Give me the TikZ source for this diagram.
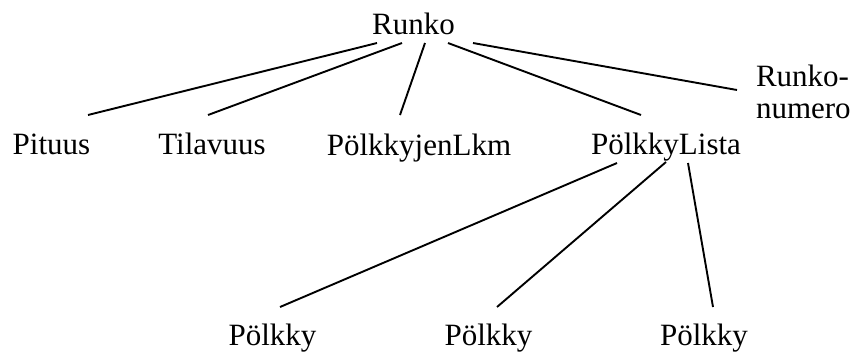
\documentclass[tikz,border=0pt]{standalone}
\usepackage{fontspec}
\setmainfont{Liberation Serif}
\usetikzlibrary{calc}
\tikzset{
  label/.style={inner sep=0pt, outer sep=0pt, anchor=base,
                font=\fontsize{31}{32}\selectfont},
  edge/.style={line width=1.9pt, line cap=butt}
}
\begin{document}
\begin{tikzpicture}[x=1pt, y=-1pt]
  \useasboundingbox (0,0) rectangle (859,354);

  % root and first level
  \node[label] (runko)    at (413.5,34) {Runko};
  \node[label] (pituus)   at (51.5,154) {Pituus};
  \node[label] (tilavuus) at (212,154)  {Tilavuus};
  \node[label] (lkm)      at (419,155)  {PölkkyjenLkm};
  \node[label] (lista)    at (666,154)  {PölkkyLista};
  \node[label, anchor=base west] (numero) at (756,86)
    {\begin{tabular}[t]{@{}l@{}}Runko-\\numero\end{tabular}};

  % second level
  \node[label] (p1) at (272.5,345) {Pölkky};
  \node[label] (p2) at (488.5,345) {Pölkky};
  \node[label] (p3) at (704,345)   {Pölkky};

  % edges from the root
  \draw[edge] ($(runko.base)+(-36.5,9)$) -- ($(pituus.base)+(36.5,-39)$);
  \draw[edge] ($(runko.base)+(-11.5,9)$) -- ($(tilavuus.base)+(-4,-39)$);
  \draw[edge] ($(runko.base)+(11.5,9)$)  -- ($(lkm.base)+(-19,-40)$);
  \draw[edge] ($(runko.base)+(34.5,9)$)  -- ($(lista.base)+(-25,-39)$);
  \draw[edge] ($(runko.base)+(59.5,9)$)  -- ($(numero.base west)+(-19,4)$);

  % edges from the list
  \draw[edge] ($(lista.base)+(-49,9)$) -- ($(p1.base)+(7.5,-38)$);
  \draw[edge] ($(lista.base)+(0,8)$)   -- ($(p2.base)+(8.5,-38)$);
  \draw[edge] ($(lista.base)+(22,9)$)  -- ($(p3.base)+(9,-38)$);
\end{tikzpicture}
\end{document}
